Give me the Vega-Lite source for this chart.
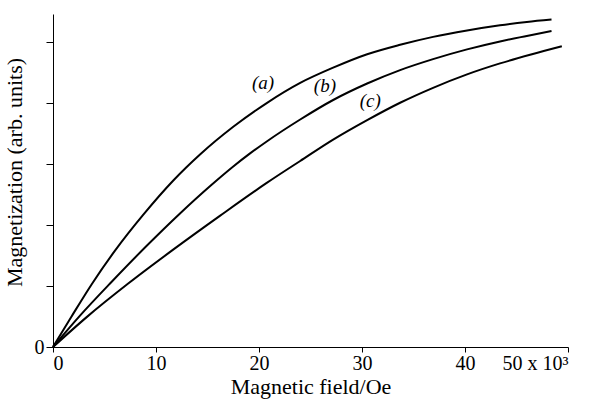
{
  "$schema": "https://vega.github.io/schema/vega-lite/v6.json",
  "width": 515,
  "height": 333,
  "autosize": {"type": "none"},
  "padding": {"left": 53, "top": 14, "right": 42, "bottom": 57},
  "config": {"view": {"stroke": null}, "font": "Liberation Serif", "background": "white"},
  "datasets": {
    "curves": [
      {"curve": "a", "H": 0, "M": 0},
      {"curve": "a", "H": 1.8, "M": 0.5},
      {"curve": "a", "H": 3.76, "M": 1.03},
      {"curve": "a", "H": 6.02, "M": 1.58},
      {"curve": "a", "H": 8.77, "M": 2.17},
      {"curve": "a", "H": 11.68, "M": 2.73},
      {"curve": "a", "H": 14.3, "M": 3.16},
      {"curve": "a", "H": 17.5, "M": 3.61},
      {"curve": "a", "H": 20.75, "M": 4.0},
      {"curve": "a", "H": 24.0, "M": 4.33},
      {"curve": "a", "H": 27.2, "M": 4.58},
      {"curve": "a", "H": 30.5, "M": 4.8},
      {"curve": "a", "H": 33.7, "M": 4.955},
      {"curve": "a", "H": 36.9, "M": 5.085},
      {"curve": "a", "H": 40.2, "M": 5.19},
      {"curve": "a", "H": 43.4, "M": 5.275},
      {"curve": "a", "H": 46.0, "M": 5.33},
      {"curve": "a", "H": 48.4, "M": 5.37},
      {"curve": "b", "H": 0, "M": 0},
      {"curve": "b", "H": 2.6, "M": 0.51},
      {"curve": "b", "H": 5.7, "M": 1.07},
      {"curve": "b", "H": 9.1, "M": 1.66},
      {"curve": "b", "H": 12.33, "M": 2.19},
      {"curve": "b", "H": 15.4, "M": 2.66},
      {"curve": "b", "H": 17.5, "M": 2.96},
      {"curve": "b", "H": 19.1, "M": 3.17},
      {"curve": "b", "H": 20.75, "M": 3.37},
      {"curve": "b", "H": 24.0, "M": 3.73},
      {"curve": "b", "H": 27.2, "M": 4.05},
      {"curve": "b", "H": 30.5, "M": 4.32},
      {"curve": "b", "H": 33.7, "M": 4.54},
      {"curve": "b", "H": 36.9, "M": 4.72},
      {"curve": "b", "H": 40.2, "M": 4.88},
      {"curve": "b", "H": 43.4, "M": 5.01},
      {"curve": "b", "H": 46.0, "M": 5.1},
      {"curve": "b", "H": 48.4, "M": 5.18},
      {"curve": "c", "H": 0, "M": 0},
      {"curve": "c", "H": 3.27, "M": 0.49},
      {"curve": "c", "H": 7.3, "M": 1.04},
      {"curve": "c", "H": 11.7, "M": 1.6},
      {"curve": "c", "H": 16.2, "M": 2.15},
      {"curve": "c", "H": 20.75, "M": 2.69},
      {"curve": "c", "H": 24.0, "M": 3.05},
      {"curve": "c", "H": 27.2, "M": 3.4},
      {"curve": "c", "H": 30.5, "M": 3.72},
      {"curve": "c", "H": 33.7, "M": 4.005},
      {"curve": "c", "H": 36.9, "M": 4.25},
      {"curve": "c", "H": 40.2, "M": 4.47},
      {"curve": "c", "H": 43.4, "M": 4.65},
      {"curve": "c", "H": 46.5, "M": 4.8},
      {"curve": "c", "H": 49.4, "M": 4.93}
    ],
    "labels": [
      {"label": "(a)", "H": 20.4, "M": 4.33},
      {"label": "(b)", "H": 26.4, "M": 4.28},
      {"label": "(c)", "H": 30.8, "M": 4.03}
    ]
  },
  "layer": [
    {
      "data": {"name": "curves"},
      "mark": {"type": "line", "color": "black", "strokeWidth": 2, "interpolate": "monotone"},
      "encoding": {
        "x": {
          "field": "H", "type": "quantitative",
          "scale": {"domain": [0, 50], "nice": false},
          "axis": {
            "values": [0, 10, 20, 30, 40, 50],
            "labelExpr": "datum.value == 50 ? '50 x 10³' : datum.label",
            "grid": false,
            "domainColor": "black", "tickColor": "black", "labelColor": "black",
            "labelFont": "Liberation Serif", "labelFontSize": 20,
            "tickSize": 5, "labelPadding": 1,
            "title": "Magnetic field/Oe",
            "titleFont": "Liberation Serif", "titleFontSize": 22, "titleFontWeight": "normal",
            "titleColor": "black", "titlePadding": 3
          }
        },
        "y": {
          "field": "M", "type": "quantitative",
          "scale": {"domain": [0, 5.46], "nice": false},
          "axis": {
            "values": [0, 1, 2, 3, 4, 5],
            "labelExpr": "datum.value == 0 ? '0' : ''",
            "grid": false,
            "domainColor": "black", "tickColor": "black", "labelColor": "black",
            "labelFont": "Liberation Serif", "labelFontSize": 20,
            "tickSize": 7, "labelPadding": 2,
            "title": "Magnetization (arb. units)",
            "titleFont": "Liberation Serif", "titleFontSize": 22, "titleFontWeight": "normal",
            "titleColor": "black", "titlePadding": 8, "titleY": 158
          }
        },
        "detail": {"field": "curve"}
      }
    },
    {
      "data": {"name": "labels"},
      "mark": {"type": "text", "font": "Liberation Serif", "fontStyle": "italic", "fontSize": 19, "color": "black"},
      "encoding": {
        "x": {"field": "H", "type": "quantitative"},
        "y": {"field": "M", "type": "quantitative"},
        "text": {"field": "label"}
      }
    }
  ]
}
